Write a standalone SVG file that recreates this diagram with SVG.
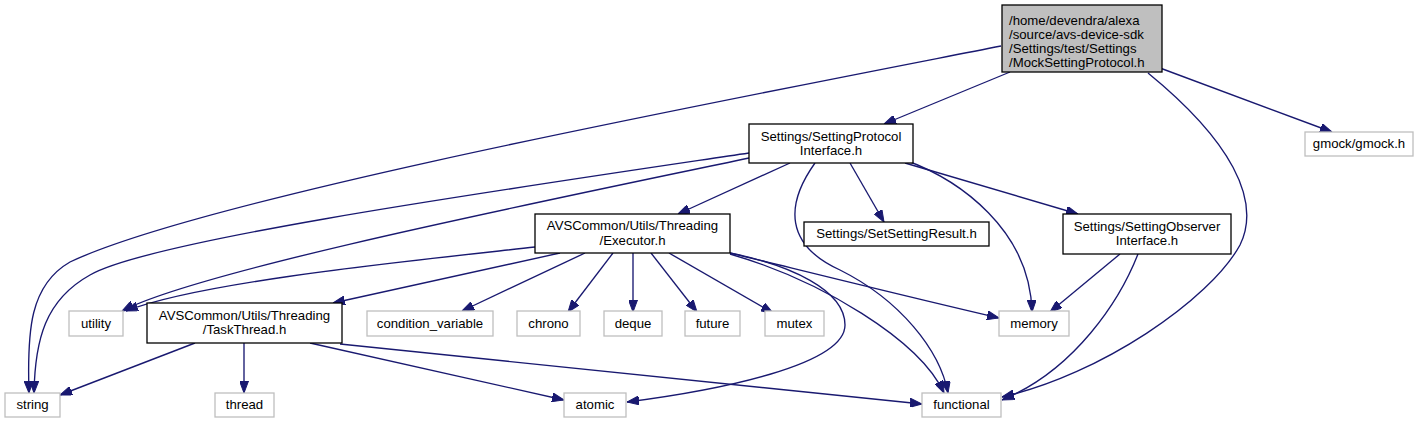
<svg xmlns="http://www.w3.org/2000/svg" width="1426" height="424" viewBox="0 0 1426 424">
<style>
text{font-family:"Liberation Sans",Arial,sans-serif;font-size:13.2px;fill:#000}
.c{text-anchor:middle}
.n{fill:#fff;stroke:#000;stroke-width:1.3}
.x{fill:#fff;stroke:#bfbfbf;stroke-width:1.3}
.m{fill:#bfbfbf;stroke:#000;stroke-width:1.3}
.e{fill:none;stroke:#191970;stroke-width:1.35;marker-end:url(#a)}
</style>
<defs>
<marker id="a" markerUnits="userSpaceOnUse" markerWidth="12" markerHeight="9" refX="12" refY="4.5" orient="auto">
<path d="M0,0 L12,4.5 L0,9 z" fill="#191970" stroke="#191970" stroke-width="1"/>
</marker>
</defs>
<rect width="1426" height="424" fill="#fff"/>
<g id="edges">
<path class="e" d="M1001,46 C700,105 200,200 70,262 C30,285 27,330 29,393"/>
<path class="e" d="M749,153 C500,190 150,240 90,275 C45,300 35,340 34,393"/>
<path class="e" d="M1010,72 L884,124"/>
<path class="e" d="M1160,68 L1332,132"/>
<path class="e" d="M1148,73 C1230,140 1262,200 1240,245 C1210,300 1100,375 1002,397"/>
<path class="e" d="M749,158 C550,200 200,270 122,311"/>
<path class="e" d="M790,163 L678,214"/>
<path class="e" d="M850,163 L884,222"/>
<path class="e" d="M905,163 L1078,214"/>
<path class="e" d="M905,160 C960,180 1030,230 1032,312"/>
<path class="e" d="M815,163 C785,205 785,245 840,270 C900,300 940,350 948,393"/>
<path class="e" d="M535,247 C400,262 200,282 126,311"/>
<path class="e" d="M560,253 L333,303"/>
<path class="e" d="M585,253 L462,311"/>
<path class="e" d="M613,253 L568,312"/>
<path class="e" d="M633,253 L633,312"/>
<path class="e" d="M651,253 L697,312"/>
<path class="e" d="M669,253 L773,313"/>
<path class="e" d="M730,253 C800,270 900,295 999,318"/>
<path class="e" d="M730,253 C790,265 845,290 845,325 C845,365 720,390 627,402"/>
<path class="e" d="M730,254 C820,280 920,340 944,393"/>
<path class="e" d="M1120,254 L1050,312"/>
<path class="e" d="M1138,254 C1120,300 1075,370 1002,400"/>
<path class="e" d="M195,343 L60,395"/>
<path class="e" d="M244,343 L244,393"/>
<path class="e" d="M310,343 L564,400"/>
<path class="e" d="M340,344 L922,404"/>
</g>
<g id="mock">
<rect class="m" x="1002" y="5" width="160" height="67"/>
<text x="1009" y="25">/home/devendra/alexa</text>
<text x="1009" y="39">/source/avs-device-sdk</text>
<text x="1009" y="53">/Settings/test/Settings</text>
<text x="1009" y="67">/MockSettingProtocol.h</text>
</g>
<g id="spi">
<rect class="n" x="749" y="124" width="164" height="39"/>
<text class="c" x="831" y="141">Settings/SettingProtocol</text>
<text class="c" x="831" y="155">Interface.h</text>
</g>
<g id="gmock">
<rect class="x" x="1305" y="132" width="108" height="24"/>
<text class="c" x="1359" y="148">gmock/gmock.h</text>
</g>
<g id="executor">
<rect class="n" x="535" y="214" width="195" height="39"/>
<text class="c" x="632.5" y="230">AVSCommon/Utils/Threading</text>
<text class="c" x="632.5" y="245">/Executor.h</text>
</g>
<g id="setsettingresult">
<rect class="n" x="804" y="222" width="185" height="24"/>
<text class="c" x="896.5" y="238">Settings/SetSettingResult.h</text>
</g>
<g id="observer">
<rect class="n" x="1063" y="214" width="168" height="40"/>
<text class="c" x="1147" y="231">Settings/SettingObserver</text>
<text class="c" x="1147" y="245">Interface.h</text>
</g>
<g id="utility">
<rect class="x" x="69" y="311" width="54" height="25"/>
<text class="c" x="96" y="328">utility</text>
</g>
<g id="taskthread">
<rect class="n" x="147" y="303" width="195" height="40"/>
<text class="c" x="244.5" y="320">AVSCommon/Utils/Threading</text>
<text class="c" x="244.5" y="334">/TaskThread.h</text>
</g>
<g id="condvar">
<rect class="x" x="367" y="311" width="126" height="25"/>
<text class="c" x="430" y="328">condition_variable</text>
</g>
<g id="chrono">
<rect class="x" x="517" y="311" width="63" height="25"/>
<text class="c" x="548.5" y="328">chrono</text>
</g>
<g id="deque">
<rect class="x" x="604" y="311" width="58" height="25"/>
<text class="c" x="633" y="328">deque</text>
</g>
<g id="future">
<rect class="x" x="685" y="311" width="55" height="25"/>
<text class="c" x="712.5" y="328">future</text>
</g>
<g id="mutex">
<rect class="x" x="765" y="311" width="59" height="25"/>
<text class="c" x="794.5" y="328">mutex</text>
</g>
<g id="memory">
<rect class="x" x="999" y="311" width="70" height="25"/>
<text class="c" x="1034" y="328">memory</text>
</g>
<g id="string">
<rect class="x" x="5" y="393" width="55" height="24"/>
<text class="c" x="32.5" y="409">string</text>
</g>
<g id="thread">
<rect class="x" x="215" y="393" width="59" height="24"/>
<text class="c" x="244.5" y="409">thread</text>
</g>
<g id="atomic">
<rect class="x" x="564" y="393" width="62" height="24"/>
<text class="c" x="595" y="409">atomic</text>
</g>
<g id="functional">
<rect class="x" x="922" y="393" width="79" height="24"/>
<text class="c" x="961.5" y="409">functional</text>
</g>
</svg>
